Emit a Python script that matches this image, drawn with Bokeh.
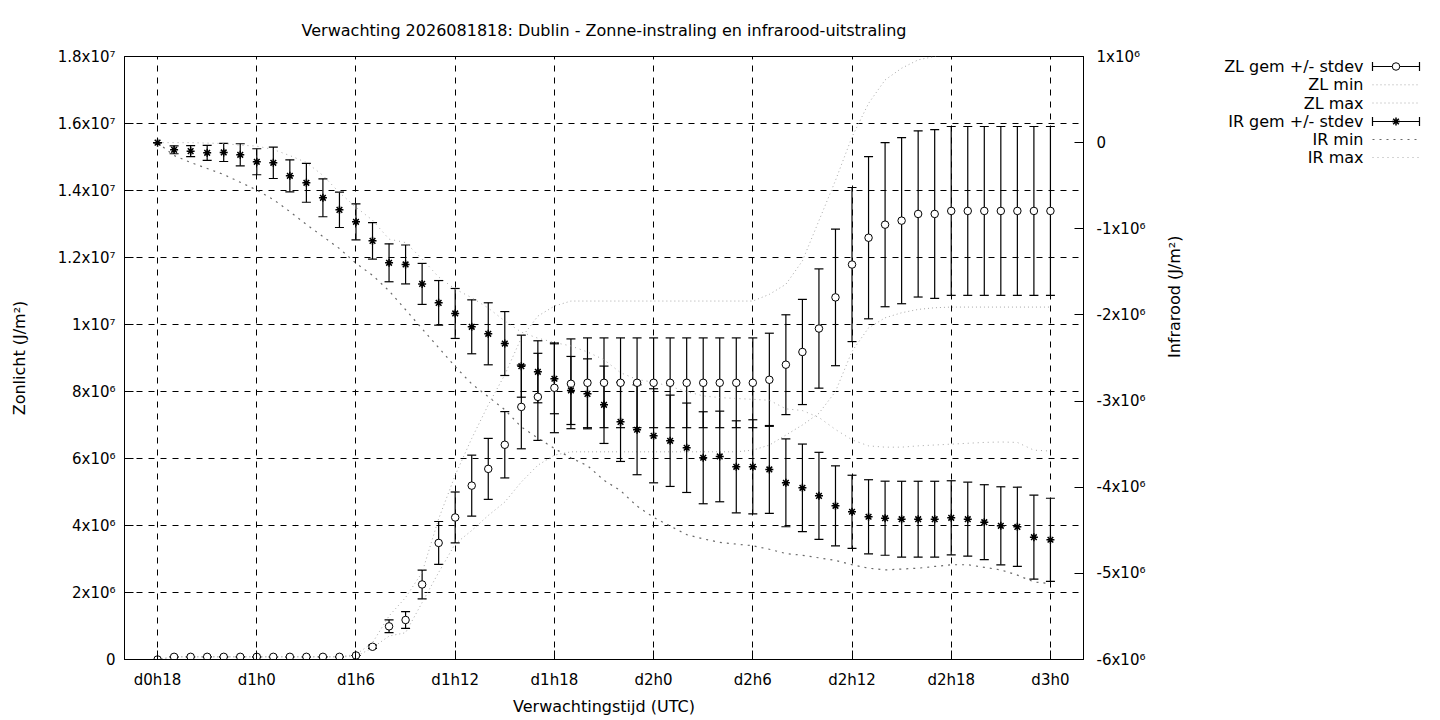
import math
from bokeh.plotting import figure
from bokeh.models import Range1d, LinearAxis, FixedTicker
from bokeh.layouts import row
from bokeh.embed import file_html
from bokeh.resources import INLINE
from bokeh.core.properties import value

# ---------------- data ----------------
hours = list(range(18, 73))

zl_mean = [0.0,
           0.08e6, 0.08e6, 0.08e6, 0.08e6, 0.08e6, 0.08e6, 0.08e6, 0.08e6, 0.08e6, 0.08e6, 0.08e6,
           0.12e6, 0.38e6, 0.99e6, 1.18e6, 2.24e6, 3.48e6, 4.24e6, 5.19e6, 5.69e6, 6.41e6, 7.54e6,
           7.84e6, 8.11e6, 8.23e6,
           8.26e6, 8.26e6, 8.26e6, 8.26e6, 8.26e6, 8.26e6, 8.26e6, 8.26e6, 8.26e6, 8.26e6, 8.26e6,
           8.35e6, 8.80e6, 9.18e6, 9.88e6, 10.81e6, 11.79e6, 12.59e6, 12.98e6, 13.10e6, 13.30e6, 13.30e6,
           13.39e6, 13.39e6, 13.39e6, 13.39e6, 13.39e6, 13.39e6, 13.39e6]

zl_sd = [0.0, 0.0, 0.0, 0.0, 0.0, 0.0, 0.0, 0.0, 0.0, 0.0, 0.0, 0.0, 0.0,
         0.05e6, 0.19e6, 0.25e6, 0.43e6, 0.64e6, 0.76e6, 0.91e6, 0.91e6, 0.99e6, 1.25e6, 1.30e6, 1.34e6,
         1.34e6, 1.34e6, 1.34e6, 1.34e6, 1.34e6, 1.34e6, 1.34e6, 1.34e6, 1.34e6, 1.34e6, 1.34e6, 1.34e6,
         1.39e6, 1.49e6, 1.57e6, 1.78e6, 2.04e6, 2.30e6, 2.42e6, 2.45e6, 2.48e6, 2.48e6,
         2.52e6, 2.52e6, 2.52e6, 2.52e6, 2.52e6, 2.52e6, 2.52e6, 2.52e6]

zl_min = [0.0,
          0.08e6, 0.08e6, 0.08e6, 0.08e6, 0.08e6, 0.08e6, 0.08e6, 0.08e6, 0.08e6, 0.08e6, 0.08e6,
          0.09e6, 0.35e6, 0.70e6, 0.80e6, 1.70e6, 2.60e6, 3.45e6, 3.85e6, 4.30e6, 4.70e6, 5.30e6,
          5.80e6, 6.10e6,
          6.20e6, 6.20e6, 6.20e6, 6.20e6, 6.20e6, 6.20e6, 6.20e6, 6.20e6, 6.20e6, 6.20e6, 6.20e6,
          6.25e6, 6.40e6, 6.70e6, 7.00e6, 7.35e6, 8.00e6, 9.20e6, 9.90e6, 10.20e6, 10.35e6, 10.45e6, 10.50e6,
          10.52e6, 10.52e6, 10.52e6, 10.52e6, 10.52e6, 10.52e6, 10.52e6]

zl_max = [0.0,
          0.08e6, 0.08e6, 0.08e6, 0.08e6, 0.08e6, 0.08e6, 0.08e6, 0.08e6, 0.08e6, 0.08e6, 0.08e6,
          0.15e6, 0.50e6, 1.30e6, 1.85e6, 2.60e6, 4.20e6, 5.50e6, 6.60e6, 7.60e6, 8.50e6, 9.60e6,
          10.25e6, 10.55e6,
          10.70e6, 10.70e6, 10.70e6, 10.70e6, 10.70e6, 10.70e6, 10.70e6, 10.70e6, 10.70e6, 10.70e6,
          10.70e6, 10.70e6,
          10.90e6, 11.20e6, 11.90e6, 13.10e6, 14.30e6, 15.60e6, 16.60e6, 17.30e6, 17.65e6, 17.90e6, 18.00e6,
          18.20e6, 18.20e6, 18.20e6, 18.20e6, 18.20e6, 18.20e6, 18.20e6]

ir_mean = [0.0, -0.083e6, -0.099e6, -0.118e6, -0.114e6, -0.141e6, -0.222e6, -0.234e6, -0.385e6,
           -0.466e6, -0.640e6, -0.780e6, -0.919e6, -1.140e6, -1.395e6, -1.414e6, -1.640e6, -1.860e6,
           -1.983e6, -2.138e6, -2.219e6, -2.332e6, -2.595e6, -2.660e6, -2.741e6, -2.877e6, -2.916e6,
           -3.043e6, -3.241e6, -3.333e6, -3.403e6, -3.461e6, -3.542e6, -3.658e6, -3.643e6, -3.763e6,
           -3.763e6, -3.794e6, -3.949e6, -4.007e6, -4.100e6, -4.216e6, -4.285e6, -4.343e6, -4.360e6,
           -4.371e6, -4.371e6, -4.371e6, -4.355e6, -4.371e6, -4.406e6, -4.448e6, -4.460e6, -4.580e6,
           -4.610e6]

ir_sd = [0.0, 0.046e6, 0.064e6, 0.087e6, 0.105e6, 0.128e6, 0.151e6, 0.182e6, 0.186e6, 0.226e6,
         0.220e6, 0.205e6, 0.209e6, 0.212e6, 0.220e6, 0.226e6, 0.238e6, 0.259e6, 0.290e6, 0.313e6,
         0.360e6, 0.371e6, 0.360e6, 0.360e6, 0.406e6, 0.395e6, 0.406e6, 0.449e6, 0.460e6, 0.522e6,
         0.546e6, 0.530e6, 0.519e6, 0.534e6, 0.526e6, 0.534e6, 0.546e6, 0.510e6, 0.510e6, 0.508e6,
         0.505e6, 0.464e6, 0.424e6, 0.430e6, 0.430e6, 0.440e6, 0.440e6, 0.440e6, 0.430e6, 0.430e6,
         0.435e6, 0.453e6, 0.460e6, 0.488e6, 0.482e6]

ir_min = [0.0, -0.15e6, -0.23e6, -0.30e6, -0.37e6, -0.46e6, -0.55e6, -0.66e6, -0.80e6, -0.95e6,
          -1.09e6, -1.23e6, -1.40e6, -1.54e6, -1.72e6, -1.94e6, -2.16e6, -2.38e6, -2.60e6, -2.80e6,
          -2.95e6, -3.10e6, -3.30e6, -3.43e6, -3.55e6, -3.66e6, -3.75e6, -3.92e6, -4.04e6, -4.22e6,
          -4.35e6, -4.45e6, -4.55e6, -4.60e6, -4.64e6, -4.66e6, -4.68e6, -4.72e6, -4.77e6, -4.79e6,
          -4.82e6, -4.85e6, -4.90e6, -4.94e6, -4.96e6, -4.95e6, -4.94e6, -4.92e6, -4.90e6, -4.90e6,
          -4.93e6, -4.96e6, -5.02e6, -5.10e6, -5.12e6]

ir_max = [0.0, 0.0, 0.0, -0.005e6, -0.01e6, -0.03e6, -0.04e6, -0.08e6, -0.15e6, -0.23e6,
          -0.38e6, -0.58e6, -0.75e6, -0.90e6, -1.12e6, -1.16e6, -1.35e6, -1.56e6, -1.70e6, -1.80e6,
          -1.92e6, -2.07e6, -2.20e6, -2.27e6, -2.32e6, -2.36e6, -2.43e6, -2.52e6, -2.67e6, -2.75e6,
          -2.78e6, -2.83e6, -2.89e6, -2.94e6, -2.96e6, -2.97e6, -2.98e6, -2.99e6, -3.09e6, -3.11e6,
          -3.19e6, -3.33e6, -3.45e6, -3.52e6, -3.535e6, -3.535e6, -3.52e6, -3.51e6, -3.50e6, -3.49e6,
          -3.48e6, -3.475e6, -3.48e6, -3.57e6, -3.58e6]

x_ticks = [18, 24, 30, 36, 42, 48, 54, 60, 66, 72]
x_labels = ["d0h18", "d1h0", "d1h6", "d1h12", "d1h18", "d2h0", "d2h6", "d2h12", "d2h18", "d3h0"]

left_ticks = [0, 2000000, 4000000, 6000000, 8000000, 10000000, 12000000, 14000000, 16000000, 18000000]
left_labels = ["0", "2x10\u2076", "4x10\u2076", "6x10\u2076", "8x10\u2076", "1x10\u2077",
               "1.2x10\u2077", "1.4x10\u2077", "1.6x10\u2077", "1.8x10\u2077"]

right_ticks = [-6000000, -5000000, -4000000, -3000000, -2000000, -1000000, 0, 1000000]
right_labels = ["-6x10\u2076", "-5x10\u2076", "-4x10\u2076", "-3x10\u2076", "-2x10\u2076",
                "-1x10\u2076", "0", "1x10\u2076"]

legend_labels = ["ZL gem +/- stdev", "ZL min", "ZL max", "IR gem +/- stdev", "IR min", "IR max"]

title_text = "Verwachting 2026081818: Dublin - Zonne-instraling en infrarood-uitstraling"

# ---------------- styling ----------------
FONT = "DejaVu Sans"
FS_TICK = "15px"
FS = "16px"
LIGHT = "#a8a8a8"
DARK = "#6a6a6a"
ZL_DASH = "1 3"
IRMIN_DASH = "2 5"
IRMAX_DASH = "1 4"

zl_lo = [m - s for m, s in zip(zl_mean, zl_sd)]
zl_hi = [m + s for m, s in zip(zl_mean, zl_sd)]
ir_lo = [m - s for m, s in zip(ir_mean, ir_sd)]
ir_hi = [m + s for m, s in zip(ir_mean, ir_sd)]

FRAME_TOP, FRAME_BOTTOM = 56, 659
W1, H = 1198, 718
p = figure(width=W1, height=H, output_backend="svg", toolbar_location=None,
           x_range=Range1d(16, 74), y_range=Range1d(0, 1.8e7),
           min_border_left=124, min_border_right=W1 - 1083,
           min_border_top=FRAME_TOP, min_border_bottom=H - FRAME_BOTTOM)
p.extra_y_ranges = {"ir": Range1d(-6e6, 1e6)}

p.title.text = title_text
p.title.align = "center"
p.title.text_font = FONT
p.title.text_font_size = FS
p.title.text_font_style = "normal"
p.title.text_color = "black"
p.title.standoff = 34

p.outline_line_color = "black"
p.outline_line_alpha = 1
p.outline_line_width = 1
p.background_fill_color = "white"
p.border_fill_color = "white"

p.xaxis.ticker = FixedTicker(ticks=x_ticks)
p.xaxis.major_label_overrides = dict(zip(x_ticks, x_labels))
p.yaxis.ticker = FixedTicker(ticks=left_ticks)
p.yaxis.major_label_overrides = dict(zip(left_ticks, left_labels))
p.xaxis.axis_label = "Verwachtingstijd (UTC)"
p.yaxis.axis_label = "Zonlicht (J/m\u00b2)"

raxis = LinearAxis(y_range_name="ir", ticker=FixedTicker(ticks=right_ticks),
                   axis_label="Infrarood (J/m\u00b2)")
raxis.major_label_overrides = dict(zip(right_ticks, right_labels))
p.add_layout(raxis, "right")

for ax in [p.xaxis[0], p.yaxis[0], raxis]:
    ax.major_tick_in = 9
    ax.major_tick_out = 0
    ax.minor_tick_in = 0
    ax.minor_tick_out = 0
    ax.axis_line_color = "black"
    ax.major_tick_line_color = "black"
    ax.major_label_text_font = FONT
    ax.major_label_text_font_size = FS_TICK
    ax.major_label_text_color = "black"
    ax.axis_label_text_font = FONT
    ax.axis_label_text_font_size = FS
    ax.axis_label_text_font_style = "normal"
    ax.axis_label_text_color = "black"

p.xaxis.major_label_standoff = 11
p.xaxis.axis_label_standoff = 5
p.yaxis.major_label_standoff = 9
p.yaxis.axis_label_standoff = 26
raxis.major_label_standoff = 13
raxis.axis_label_standoff = 26
raxis.axis_label_orientation = math.pi / 2

p.xgrid.ticker = FixedTicker(ticks=x_ticks)
p.ygrid.ticker = FixedTicker(ticks=left_ticks)
for g in [p.xgrid[0], p.ygrid[0]]:
    g.grid_line_color = "black"
    g.grid_line_alpha = 1
    g.grid_line_width = 1
    g.grid_line_dash = "6 6"

# ZL error bars
p.segment(x0=hours, y0=zl_lo, x1=hours, y1=zl_hi, line_color="black", line_width=1.2)
p.scatter(hours, zl_lo, marker="dash", size=9, line_color="black", line_width=1.2)
p.scatter(hours, zl_hi, marker="dash", size=9, line_color="black", line_width=1.2)
# ZL min/max
p.line(hours, zl_min, line_color=LIGHT, line_width=1, line_dash=ZL_DASH)
p.line(hours, zl_max, line_color=LIGHT, line_width=1, line_dash=ZL_DASH)
# IR error bars
p.segment(x0=hours, y0=ir_lo, x1=hours, y1=ir_hi, line_color="black", line_width=1.2,
          y_range_name="ir")
p.scatter(hours, ir_lo, marker="dash", size=9, line_color="black", line_width=1.2, y_range_name="ir")
p.scatter(hours, ir_hi, marker="dash", size=9, line_color="black", line_width=1.2, y_range_name="ir")
# IR min/max
p.line(hours, ir_min, line_color=DARK, line_width=1.2, line_dash=IRMIN_DASH, y_range_name="ir")
p.line(hours, ir_max, line_color=LIGHT, line_width=1, line_dash=IRMAX_DASH, y_range_name="ir")
# markers
p.scatter(hours, zl_mean, marker="circle", size=7.5, fill_color="white", line_color="black",
          line_width=1)
p.scatter(hours, ir_mean, marker="asterisk", size=8, line_color="black", line_width=1.5,
          y_range_name="ir")

# ---------------- legend (separate panel, frame aligned with the main frame) ----------------
W2 = 1440 - W1
lg = figure(width=W2, height=H, output_backend="svg", toolbar_location=None, title=None,
            x_range=Range1d(0, W2), y_range=Range1d(FRAME_BOTTOM, FRAME_TOP),
            x_axis_location=None, y_axis_location=None,
            min_border_left=0, min_border_right=0,
            min_border_top=FRAME_TOP, min_border_bottom=H - FRAME_BOTTOM)
lg.outline_line_color = None
lg.xgrid.visible = False
lg.ygrid.visible = False
lg.background_fill_color = "white"
lg.border_fill_color = "white"

row_y = [66, 84.3, 102.5, 121, 139, 157]      # page y of each legend row
tx, sx0, sx1 = 165, 174, 221
sxm = (sx0 + sx1) / 2
lg.text(x=[tx] * len(legend_labels), y=row_y, text=legend_labels, text_align="right",
        text_baseline="middle", text_font=value(FONT), text_font_size=FS, text_color="black")

for i in (0, 3):
    y = row_y[i]
    lg.segment(x0=[sx0], y0=[y], x1=[sx1], y1=[y], line_color="black", line_width=1.2)
    lg.segment(x0=[sx0, sx1], y0=[y - 4.5, y - 4.5], x1=[sx0, sx1], y1=[y + 4.5, y + 4.5],
               line_color="black", line_width=1.2)
lg.scatter([sxm], [row_y[0]], marker="circle", size=7.5, fill_color="white", line_color="black")
lg.scatter([sxm], [row_y[3]], marker="asterisk", size=8, line_color="black", line_width=1.5)
lg.line([sx0, sx1], [row_y[1]] * 2, line_color=LIGHT, line_dash=ZL_DASH)
lg.line([sx0, sx1], [row_y[2]] * 2, line_color=LIGHT, line_dash=ZL_DASH)
lg.line([sx0, sx1], [row_y[4]] * 2, line_color=DARK, line_width=1.2, line_dash=IRMIN_DASH)
lg.line([sx0, sx1], [row_y[5]] * 2, line_color=LIGHT, line_dash=IRMAX_DASH)

layout = row(p, lg, spacing=0)
open("out.html", "w").write(file_html(layout, INLINE))
